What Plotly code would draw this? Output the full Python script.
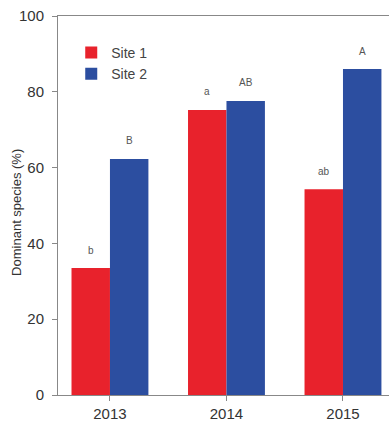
import plotly.graph_objects as go

years = ["2013", "2014", "2015"]
site1 = [33.5, 75.2, 54.3]
site2 = [62.3, 77.6, 86.0]
site1_letters = ["b", "a", "ab"]
site2_letters = ["B", "AB", "A"]
y_ticks = [0, 20, 40, 60, 80, 100]

RED = "#e8222c"
BLUE = "#2c4ea0"
FONT = "Liberation Sans, Arial, sans-serif"
BARGAP = 0.34
HALF = (1 - BARGAP) / 4  # centre offset of each bar within a group

fig = go.Figure()
fig.add_trace(go.Bar(name="Site 1", x=years, y=site1, marker=dict(color=RED, line=dict(width=0))))
fig.add_trace(go.Bar(name="Site 2", x=years, y=site2, marker=dict(color=BLUE, line=dict(width=0))))

# significance letters above each bar
for i in range(len(years)):
    for val, letter, sign in ((site1[i], site1_letters[i], -1), (site2[i], site2_letters[i], 1)):
        fig.add_annotation(x=i + sign * HALF, y=val, text=letter, showarrow=False,
                           yanchor="middle", yshift=18,
                           font=dict(size=10, color="#555", family=FONT))

# y-axis title
fig.add_annotation(text="Dominant species (%)", xref="paper", yref="paper",
                   x=-0.124, y=0.483, xanchor="center", yanchor="middle",
                   textangle=-90, showarrow=False,
                   font=dict(size=13, color="#333", family=FONT))

fig.update_layout(
    width=389, height=421,
    margin=dict(l=58, r=0, t=16, b=26),
    plot_bgcolor="white", paper_bgcolor="white",
    barmode="group", bargap=BARGAP, bargroupgap=0,
    font=dict(family=FONT, color="#333"),
    legend=dict(x=0.04, y=0.945, xanchor="left", yanchor="top",
                font=dict(size=14, color="#444"), bgcolor="rgba(0,0,0,0)",
                tracegroupgap=0, itemwidth=30),
    showlegend=True,
)
fig.update_xaxes(
    type="category", range=[-0.446, 2.395],
    showline=True, linecolor="#888", linewidth=1, mirror=True,
    ticks="outside", ticklen=5, tickcolor="#888",
    tickfont=dict(size=15, color="#333"), showgrid=False,
)
fig.update_yaxes(
    range=[0, 100], tickvals=y_ticks,
    showline=True, linecolor="#888", linewidth=1,
    ticks="outside", ticklen=5, tickcolor="#888", ticklabelstandoff=5,
    tickfont=dict(size=15, color="#333"), showgrid=False, zeroline=False,
)

fig.write_html("out.html")
